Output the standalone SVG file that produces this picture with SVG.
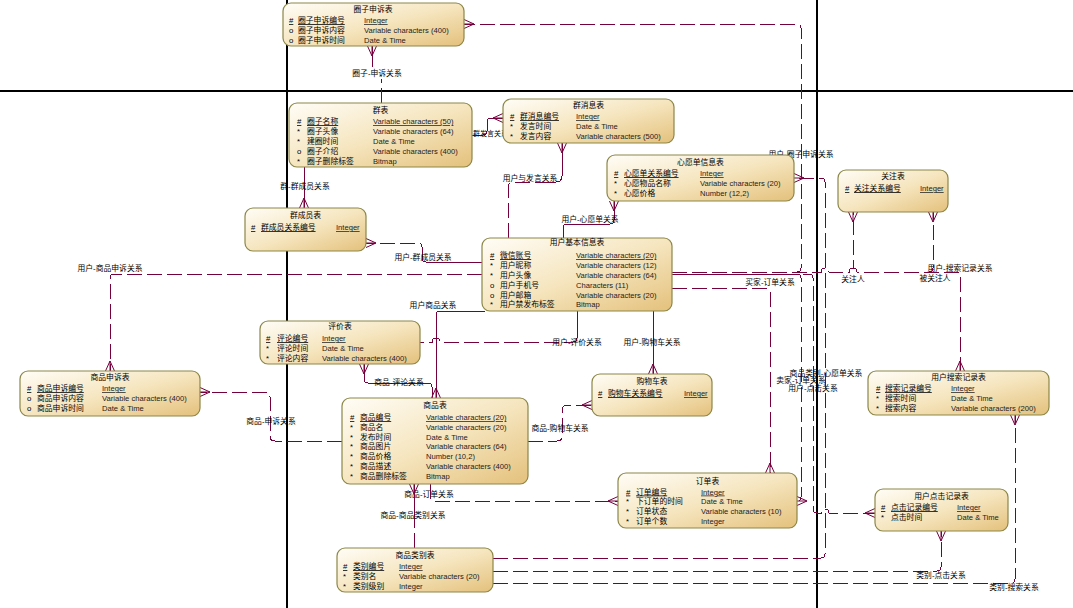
<svg xmlns="http://www.w3.org/2000/svg" width="1073" height="608" viewBox="0 0 1073 608">
<defs>
<linearGradient id="g" x1="0" y1="0" x2="1" y2="1">
<stop offset="0" stop-color="#fffdf7"/>
<stop offset="0.5" stop-color="#f6e6c0"/>
<stop offset="1" stop-color="#e4c17c"/>
</linearGradient>
<marker id="cf" markerUnits="userSpaceOnUse" markerWidth="14" markerHeight="12" refX="12" refY="6" orient="auto" overflow="visible">
<path d="M2,6 L12,1.5 M2,6 L12,10.5 M2,6 L12,6" fill="none" stroke="#74003e" stroke-width="1"/>
</marker>
<style>
.c{fill:none;stroke:#74003e;stroke-width:1;shape-rendering:crispEdges}
.d{stroke-dasharray:15 5}
.cm{marker-end:url(#cf)}
.box{fill:url(#g);stroke:#8b8748;stroke-width:1.2}
text{font-family:"Liberation Sans","Noto Sans CJK SC",sans-serif;font-size:7.8px;fill:#000}
.t,.lb{text-anchor:middle}
.ty{fill:#222;font-size:7.6px}
.u{text-decoration:underline}
.pg{stroke:#000;stroke-width:1.3;fill:none;shape-rendering:crispEdges}
</style>
</defs>
<rect width="1073" height="608" fill="#fff"/>
<g id="page"><path class="pg" d="M287,0 V608 M817,0 V608 M0,91 H1073"/></g>

<g id="connectors">
<g id="r-quanzi-shensu"><path class="c d" d="M381,103 V79"/><path class="c cm" d="M372,67 V46"/><text class="lb" x="377" y="76">圈子-申诉关系</text></g>
<g id="r-yonghu-quanzishensu"><path class="c d cm" d="M672,272 H797 Q801,272 801,268 V28 Q801,24 797,24 H464"/><text class="lb" x="801" y="157">用户-圈子申诉关系</text></g>
<g id="r-qun-qunchengyuan"><path class="c cm" d="M304,167 V208"/><text class="lb" x="305" y="189">群-群成员关系</text></g>
<g id="r-qunfayan"><path class="c cm" d="M472,135 H483 Q487,135 487,131 V122 Q487,118 491,118 H503"/><text x="473" y="136" style="font-size:7px">群发言关系</text></g>
<g id="r-yonghu-fayan"><path class="c d" d="M508,238 V188 Q508,182 514,182 H535"/><path class="c cm" d="M535,182 H556 Q562,182 562,176 V143"/><text class="lb" x="530" y="181">用户与发言关系</text></g>
<g id="r-yonghu-xinyuandan"><path class="c cm" d="M563,238 V228 Q563,224 567,224 H610 Q614,224 614,220 V201"/><text class="lb" x="590" y="222">用户-心愿单关系</text></g>
<g id="r-yonghu-qunchengyuan"><path class="c" d="M482,262 H426 Q422,262 422,258"/><path class="c d cm" d="M422,258 V247 Q422,243 418,243 H366"/><text class="lb" x="423" y="260">用户-群成员关系</text></g>
<g id="r-yonghu-shangpinshensu"><path class="c d cm" d="M482,274 H114 Q110,274 110,278 V371"/><text class="lb" x="110" y="271">用户-商品申诉关系</text></g>
<g id="r-yonghu-shangpin"><path class="c cm" d="M485,311 H440 Q436,311 436,315 V398"/><text class="lb" x="433" y="308">用户商品关系</text></g>
<g id="r-shangpin-pinglun"><path class="c cm" d="M432,398 V387 Q432,383 428,383 H368 Q364,383 364,379 V364"/><text class="lb" x="399" y="385">商品-评论关系</text></g>
<g id="r-yonghu-pingjia"><path class="c" d="M577,311 V338"/><path class="c d" d="M577,338 Q577,342 573,342 H440 A4,4 0 0 0 432,342 H420"/><text class="lb" x="577" y="345">用户-评价关系</text></g>
<g id="r-yonghu-gouwuche"><path class="c cm" d="M653,311 V374"/><text class="lb" x="652" y="345">用户-购物车关系</text></g>
<g id="r-maijia-dingdan"><path class="c d cm" d="M672,288 H766 Q770,288 770,292 V473"/><text class="lb" x="770" y="285">买家-订单关系</text></g>
<g id="r-maijia2-dingdan"><path class="c d cm" d="M672,274 H797 Q801,274 801,278 V497 Q801,501 797,501"/><text class="lb" x="801" y="383">卖家-订单关系</text></g>
<g id="r-yonghu-dianji"><path class="c d cm" style="stroke-dashoffset:9" d="M672,274 H809 Q813,274 813,278 V509 Q813,513 817,513 H821 A4,4 0 0 1 829,513 H875"/><text class="lb" x="813" y="391">用户-点击关系</text></g>
<g id="r-leibie-xinyuandan"><path class="c d cm" d="M493,558 H821 Q825,558 825,554 V182 Q825,178 821,178 H794"/><text class="lb" x="826" y="376">商品类别-心愿单关系</text></g>
<g id="r-leibie-dianji"><path class="c d cm" d="M493,571 H937 Q941,571 941,567 V531"/><text class="lb" x="941" y="578">类别-点击关系</text></g>
<g id="r-leibie-sousuo"><path class="c d cm" d="M493,583 H1011 Q1015,583 1015,579 V415"/><text class="lb" x="1014" y="590">类别-搜索关系</text></g>
<g id="r-yonghu-sousuo"><path class="c d cm" d="M672,272 H821 A4,4 0 0 1 829,272 H849 A4,4 0 0 1 857,272 H956 Q960,272 960,276 V371"/><text class="lb" x="960" y="271">用户-搜索记录关系</text></g>
<g id="r-guanzhuren"><path class="c d cm" d="M672,272 H821 A4,4 0 0 1 829,272 H849 A4,4 0 0 1 853,268 V212"/><text class="lb" x="853" y="282">关注人</text></g>
<g id="r-beiguanzhuren"><path class="c d cm" d="M672,272 H821 A4,4 0 0 1 829,272 H849 A4,4 0 0 1 857,272 H929 Q933,272 933,268 V212"/><text class="lb" x="935" y="281">被关注人</text></g>
<g id="r-shangpin-shensu"><path class="c d cm" d="M342,441 H275 Q270,441 270,436 V397 Q270,392 265,392 H200"/><text class="lb" x="271" y="424">商品-申诉关系</text></g>
<g id="r-shangpin-gouwuche"><path class="c d cm" d="M528,441 H557 Q562,441 562,436 V410 Q562,405 567,405 H592"/><text class="lb" x="560" y="431">商品-购物车关系</text></g>
<g id="r-shangpin-dingdan"><path class="c d cm" d="M430,484 V496 Q430,501 435,501 H618"/><text class="lb" x="429" y="497">商品-订单关系</text></g>
<g id="r-shangpin-leibie"><path class="c d" d="M414,548 V523"/><path class="c cm" d="M414,523 V484"/><text class="lb" x="413" y="518">商品-商品类别关系</text></g>
</g>

<g id="n-quanzishensu">
<rect class="box" x="283" y="3" width="181" height="43" rx="8"/>
<text class="t" x="373" y="12">圈子申诉表</text>
<text x="289" y="23" class="u">#</text><text x="298" y="23" class="u">圈子申诉编号</text><text x="364" y="23" class="ty u">Integer</text>
<text x="289" y="33">o</text><text x="298" y="33">圈子申诉内容</text><text x="364" y="33" class="ty">Variable characters (400)</text>
<text x="289" y="43">o</text><text x="298" y="43">圈子申诉时间</text><text x="364" y="43" class="ty">Date &amp; Time</text>
</g>

<g id="n-qun">
<rect class="box" x="289" y="103" width="183" height="64" rx="8"/>
<text class="t" x="380.5" y="113">群表</text>
<text x="297" y="124" class="u">#</text><text x="307" y="124" class="u">圈子名称</text><text x="373" y="124" class="ty u">Variable characters (50)</text>
<text x="297" y="134">*</text><text x="307" y="134">圈子头像</text><text x="373" y="134" class="ty">Variable characters (64)</text>
<text x="297" y="144">*</text><text x="307" y="144">建圈时间</text><text x="373" y="144" class="ty">Date &amp; Time</text>
<text x="297" y="154">o</text><text x="307" y="154">圈子介绍</text><text x="373" y="154" class="ty">Variable characters (400)</text>
<text x="297" y="164">*</text><text x="307" y="164">圈子删除标签</text><text x="373" y="164" class="ty">Bitmap</text>
</g>

<g id="n-qunxiaoxi">
<rect class="box" x="503" y="99" width="171" height="44" rx="8"/>
<text class="t" x="588.5" y="108">群消息表</text>
<text x="510" y="119" class="u">#</text><text x="520" y="119" class="u">群消息编号</text><text x="576" y="119" class="ty u">Integer</text>
<text x="510" y="129">*</text><text x="520" y="129">发言时间</text><text x="576" y="129" class="ty">Date &amp; Time</text>
<text x="510" y="139">*</text><text x="520" y="139">发言内容</text><text x="576" y="139" class="ty">Variable characters (500)</text>
</g>

<g id="n-xinyuandan">
<rect class="box" x="607" y="155" width="187" height="46" rx="8"/>
<text class="t" x="700.5" y="165">心愿单信息表</text>
<text x="614" y="176" class="u">#</text><text x="624" y="176" class="u">心愿单关系编号</text><text x="700" y="176" class="ty u">Integer</text>
<text x="614" y="186">*</text><text x="624" y="186">心愿物品名称</text><text x="700" y="186" class="ty">Variable characters (20)</text>
<text x="614" y="196">*</text><text x="624" y="196">心愿价格</text><text x="700" y="196" class="ty">Number (12,2)</text>
</g>

<g id="n-guanzhu">
<rect class="box" x="838" y="170" width="110" height="42" rx="8"/>
<text class="t" x="893" y="179">关注表</text>
<text x="845" y="191" class="u">#</text><text x="854" y="191" class="u">关注关系编号</text><text x="920" y="191" class="ty u">Integer</text>
</g>

<g id="n-qunchengyuan">
<rect class="box" x="245" y="208" width="121" height="43" rx="8"/>
<text class="t" x="305.5" y="218">群成员表</text>
<text x="251" y="230" class="u">#</text><text x="261" y="230" class="u">群成员关系编号</text><text x="336" y="230" class="ty u">Integer</text>
</g>

<g id="n-yonghu">
<rect class="box" x="482" y="238" width="190" height="73" rx="8"/>
<text class="t" x="577" y="245">用户基本信息表</text>
<text x="490" y="258" class="u">#</text><text x="500" y="258" class="u">微信账号</text><text x="576" y="258" class="ty u">Variable characters (20)</text>
<text x="490" y="268">*</text><text x="500" y="268">用户昵称</text><text x="576" y="268" class="ty">Variable characters (12)</text>
<text x="490" y="278">*</text><text x="500" y="278">用户头像</text><text x="576" y="278" class="ty">Variable characters (64)</text>
<text x="490" y="288">o</text><text x="500" y="288">用户手机号</text><text x="576" y="288" class="ty">Characters (11)</text>
<text x="490" y="298">o</text><text x="500" y="298">用户邮箱</text><text x="576" y="298" class="ty">Variable characters (20)</text>
<text x="490" y="307">*</text><text x="500" y="307">用户禁发布标签</text><text x="576" y="307" class="ty">Bitmap</text>
</g>

<g id="n-pingjia">
<rect class="box" x="260" y="321" width="160" height="43" rx="8"/>
<text class="t" x="340" y="329">评价表</text>
<text x="266" y="341" class="u">#</text><text x="277" y="341" class="u">评论编号</text><text x="322" y="341" class="ty u">Integer</text>
<text x="266" y="351">*</text><text x="277" y="351">评论时间</text><text x="322" y="351" class="ty">Date &amp; Time</text>
<text x="266" y="361">*</text><text x="277" y="361">评论内容</text><text x="322" y="361" class="ty">Variable characters (400)</text>
</g>

<g id="n-shangpinshensu">
<rect class="box" x="20" y="371" width="180" height="45" rx="8"/>
<text class="t" x="110" y="380">商品申诉表</text>
<text x="27" y="391" class="u">#</text><text x="37" y="391" class="u">商品申诉编号</text><text x="102" y="391" class="ty u">Integer</text>
<text x="27" y="401">o</text><text x="37" y="401">商品申诉内容</text><text x="102" y="401" class="ty">Variable characters (400)</text>
<text x="27" y="411">o</text><text x="37" y="411">商品申诉时间</text><text x="102" y="411" class="ty">Date &amp; Time</text>
</g>

<g id="n-gouwuche">
<rect class="box" x="592" y="374" width="120" height="42" rx="8"/>
<text class="t" x="652" y="384">购物车表</text>
<text x="598" y="396" class="u">#</text><text x="608" y="396" class="u">购物车关系编号</text><text x="684" y="396" class="ty u">Integer</text>
</g>

<g id="n-sousuo">
<rect class="box" x="868" y="371" width="181" height="44" rx="8"/>
<text class="t" x="958.5" y="380">用户搜索记录表</text>
<text x="876" y="391" class="u">#</text><text x="885" y="391" class="u">搜索记录编号</text><text x="951" y="391" class="ty u">Integer</text>
<text x="876" y="401">*</text><text x="885" y="401">搜索时间</text><text x="951" y="401" class="ty">Date &amp; Time</text>
<text x="876" y="411">*</text><text x="885" y="411">搜索内容</text><text x="951" y="411" class="ty">Variable characters (200)</text>
</g>

<g id="n-shangpin">
<rect class="box" x="342" y="398" width="186" height="86" rx="8"/>
<text class="t" x="435" y="408">商品表</text>
<text x="350" y="420" class="u">#</text><text x="360" y="420" class="u">商品编号</text><text x="426" y="420" class="ty u">Variable characters (20)</text>
<text x="350" y="429.8">*</text><text x="360" y="429.8">商品名</text><text x="426" y="429.8" class="ty">Variable characters (20)</text>
<text x="350" y="439.6">*</text><text x="360" y="439.6">发布时间</text><text x="426" y="439.6" class="ty">Date &amp; Time</text>
<text x="350" y="449.4">*</text><text x="360" y="449.4">商品图片</text><text x="426" y="449.4" class="ty">Variable characters (64)</text>
<text x="350" y="459.2">*</text><text x="360" y="459.2">商品价格</text><text x="426" y="459.2" class="ty">Number (10,2)</text>
<text x="350" y="469">*</text><text x="360" y="469">商品描述</text><text x="426" y="469" class="ty">Variable characters (400)</text>
<text x="350" y="478.8">*</text><text x="360" y="478.8">商品删除标签</text><text x="426" y="478.8" class="ty">Bitmap</text>
</g>

<g id="n-dingdan">
<rect class="box" x="618" y="473" width="179" height="55" rx="8"/>
<text class="t" x="707.5" y="484">订单表</text>
<text x="626" y="494.5" class="u">#</text><text x="636" y="494.5" class="u">订单编号</text><text x="701" y="494.5" class="ty u">Integer</text>
<text x="626" y="504">*</text><text x="636" y="504">下订单的时间</text><text x="701" y="504" class="ty">Date &amp; Time</text>
<text x="626" y="514">*</text><text x="636" y="514">订单状态</text><text x="701" y="514" class="ty">Variable characters (10)</text>
<text x="626" y="524">*</text><text x="636" y="524">订单个数</text><text x="701" y="524" class="ty">Integer</text>
</g>

<g id="n-dianji">
<rect class="box" x="875" y="489" width="133" height="42" rx="8"/>
<text class="t" x="941.5" y="499">用户点击记录表</text>
<text x="881" y="510" class="u">#</text><text x="891" y="510" class="u">点击记录编号</text><text x="957" y="510" class="ty u">Integer</text>
<text x="881" y="520">*</text><text x="891" y="520">点击时间</text><text x="957" y="520" class="ty">Date &amp; Time</text>
</g>

<g id="n-leibie">
<rect class="box" x="337" y="548" width="156" height="44" rx="8"/>
<text class="t" x="415" y="558">商品类别表</text>
<text x="343" y="569" class="u">#</text><text x="353" y="569" class="u">类别编号</text><text x="399" y="569" class="ty u">Integer</text>
<text x="343" y="579">*</text><text x="353" y="579">类别名</text><text x="399" y="579" class="ty">Variable characters (20)</text>
<text x="343" y="589">*</text><text x="353" y="589">类别级别</text><text x="399" y="589" class="ty">Integer</text>
</g>
</svg>
